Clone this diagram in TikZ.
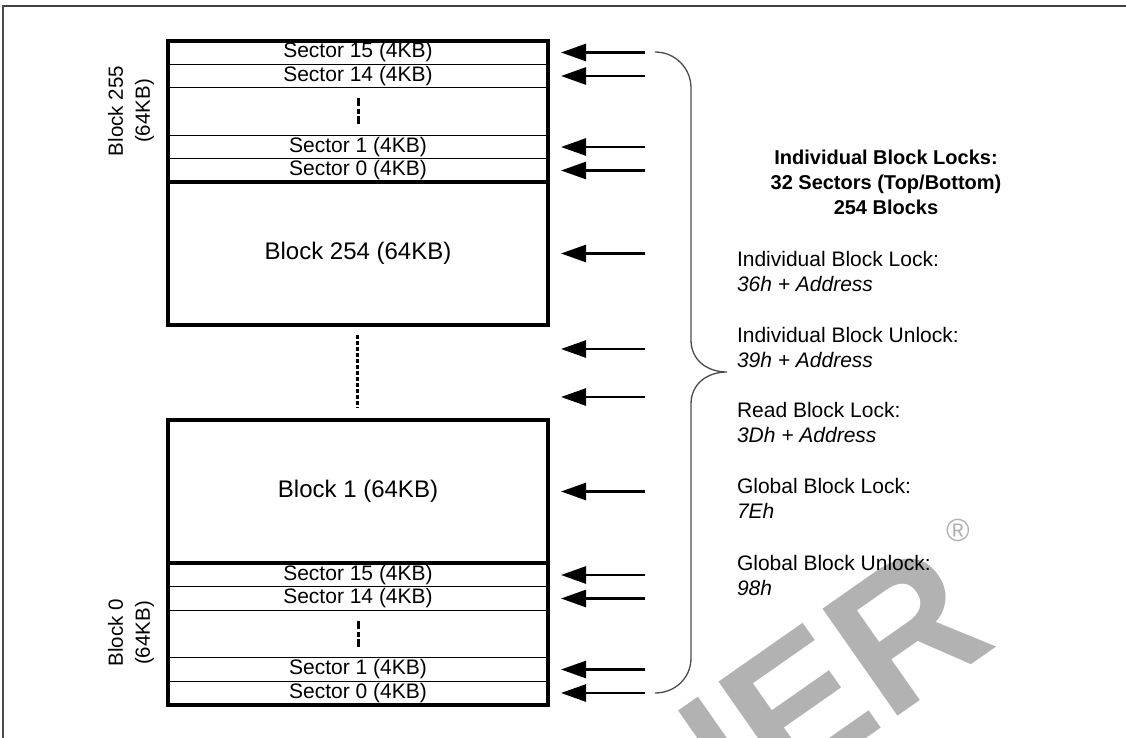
\documentclass[tikz,border=0pt]{standalone}
\usepackage{fontspec}
\setmainfont{Liberation Sans}
\usetikzlibrary{arrows.meta}
\begin{document}
\begin{tikzpicture}[x=1pt,y=-1pt,
  every node/.style={inner sep=0pt, outer sep=0pt},
  sectorrow/.style={draw, line width=1.3pt, minimum width=380pt, minimum height=23.5pt, font=\fontsize{21}{24}\selectfont},
  blockrow/.style={minimum width=380pt, minimum height=143pt, font=\fontsize{24}{28}\selectfont},
  thickbox/.style={line width=3.8pt},
  lockarrow/.style={line width=2.7pt, -{Triangle[length=25pt,width=17pt]}},
  sectordash/.style={line width=3pt, dash pattern=on 8pt off 3pt on 5pt off 2pt},
  blockdots/.style={line width=3pt, dash pattern=on 4pt off 2pt},
  bracestyle/.style={line width=1.3pt, draw=black!70},
  blocklabel/.style={rotate=90, align=center, font=\fontsize{20.5}{27}\selectfont},
  headtext/.style={anchor=base, font=\fontsize{20}{24}\selectfont\bfseries},
  cmdname/.style={anchor=base west, font=\fontsize{21}{24}\selectfont},
  cmdcode/.style={anchor=base west, font=\fontsize{21}{24}\selectfont\itshape},
  watermark/.style={text=black!30}
]
\useasboundingbox (0,0) rectangle (1126,738);
\fill[white] (0,0) rectangle (1126,738);

% watermark
\begin{scope}
\clip (0,0) rectangle (1126,738);
\node[watermark, rotate=35, anchor=base east, font=\fontsize{190}{190}\selectfont\bfseries] (wm) at (1000,645) {ALLWINNER};
\node[watermark, font=\fontsize{32}{32}\selectfont] (reg) at (958,530) {®};
\end{scope}

% frame
\draw[line width=2pt, black!75] (3,6.5) -- (1126,6.5);
\draw[line width=1.5pt, black!70] (3,5.5) -- (3,738);

% top block (Block 255 sectors) and Block 254
\node[sectorrow] (t15) at (358,52.5) {Sector 15 (4KB)};
\node[sectorrow] (t14) at (358,76) {Sector 14 (4KB)};
\node[sectorrow] (t1) at (358,147) {Sector 1 (4KB)};
\node[sectorrow] (t0) at (358,170.5) {Sector 0 (4KB)};
\node[blockrow] (b254) at (358,253.5) {Block 254 (64KB)};
\draw[thickbox] (t15.north west) rectangle (b254.south east);
\draw[thickbox] (b254.north west) -- (b254.north east);
\draw[sectordash] (358,98) -- (358,124);

% gap
\draw[blockdots] (357.5,335) -- (357.5,408);

% Block 1 and Block 0 sectors
\node[blockrow] (b1) at (358,491.5) {Block 1 (64KB)};
\node[sectorrow] (u15) at (358,575) {Sector 15 (4KB)};
\node[sectorrow] (u14) at (358,598.5) {Sector 14 (4KB)};
\node[sectorrow] (u1) at (358,669.5) {Sector 1 (4KB)};
\node[sectorrow] (u0) at (358,693) {Sector 0 (4KB)};
\draw[thickbox] (b1.north west) rectangle (u0.south east);
\draw[thickbox] (b1.south west) -- (b1.south east);
\draw[sectordash] (358,621) -- (358,647);

% block labels
\node[blocklabel] (l255) at (131,111) {Block 255\\(64KB)};
\node[blocklabel] (l0) at (131,633) {Block 0\\(64KB)};

% arrows
\foreach \n in {t15,t14,t1,t0,b254,b1,u15,u14,u1,u0}{
  \draw[lockarrow] ([xshift=97pt]\n.east) -- ([xshift=13pt]\n.east);
}
\coordinate (m1) at (561,349);
\coordinate (m2) at (561,397);
\draw[lockarrow] ([xshift=84pt]m1) -- (m1);
\draw[lockarrow] ([xshift=84pt]m2) -- (m2);

% brace
\coordinate (tip) at (727,372);
\draw[bracestyle] (655,52) .. controls (675,52) and (691,68) .. (691,88) -- (691,340)
  .. controls (691,360) and (707,372) .. (tip)
  .. controls (707,372) and (691,384) .. (691,404) -- (691,658)
  .. controls (691,678) and (675,693) .. (655,693);

% heading
\node[headtext] (h1) at (886,164.3) {Individual Block Locks:};
\node[headtext] (h2) at (886,189.3) {32 Sectors (Top/Bottom)};
\node[headtext] (h3) at (886,214) {254 Blocks};

% commands
\node[cmdname] (c1) at (737,266) {Individual Block Lock:};
\node[cmdcode] (d1) at (737,291) {36h + Address};
\node[cmdname] (c2) at (737,342) {Individual Block Unlock:};
\node[cmdcode] (d2) at (737,367) {39h + Address};
\node[cmdname] (c3) at (737,417) {Read Block Lock:};
\node[cmdcode] (d3) at (737,442) {3Dh + Address};
\node[cmdname] (c4) at (737,493) {Global Block Lock:};
\node[cmdcode] (d4) at (737,518) {7Eh};
\node[cmdname] (c5) at (737,570) {Global Block Unlock:};
\node[cmdcode] (d5) at (737,595) {98h};
\end{tikzpicture}
\end{document}
